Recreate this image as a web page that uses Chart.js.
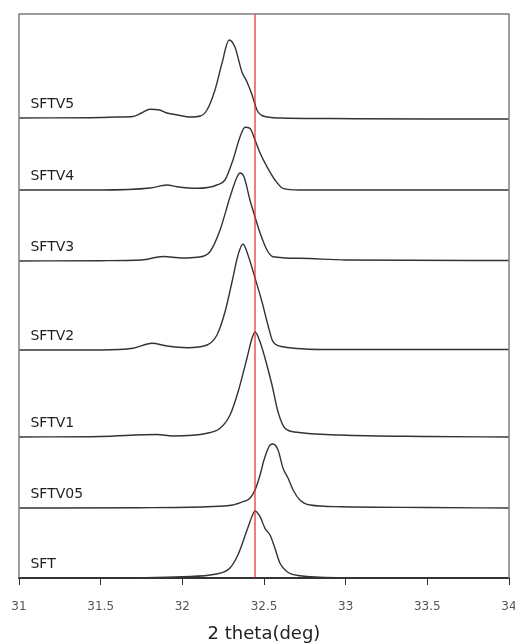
<!DOCTYPE html>
<html>
<head>
<meta charset="utf-8">
<script src="https://cdn.jsdelivr.net/npm/chart.js@4.4.1/dist/chart.umd.min.js"></script>
<style>
  html, body { margin: 0; padding: 0; background: #fff; }
  #wrap { width: 515px; height: 643px; }
</style>
</head>
<body>
<div id="wrap"><canvas id="xrdChart" width="515" height="643"></canvas></div>
<script>
// Stacked XRD patterns around the main perovskite peak
const samples = ['SFT', 'SFTV05', 'SFTV1', 'SFTV2', 'SFTV3', 'SFTV4', 'SFTV5'];
const offsets = [0, 70, 141, 228, 317, 388, 460];  // vertical shift of each pattern
const refTheta = 32.445;  // peak position of undoped SFT
const xTicks = [31, 31.5, 32, 32.5, 33, 33.5, 34];

const thetaSFT = [31.0, 31.5, 31.74, 32.0, 32.2, 32.29, 32.34, 32.4, 32.43, 32.445, 32.476, 32.506, 32.537, 32.567, 32.598, 32.641, 32.72, 32.97, 33.5, 34.0];
const countsSFT = [0, 0, 0.3, 1.3, 3.7, 9.7, 23, 49.7, 63, 67, 61.3, 49.7, 43, 29.7, 14.7, 6.3, 2.3, 0.3, 0, 0];

const thetaSFTV05 = [31.0, 31.74, 32.15, 32.31, 32.371, 32.414, 32.445, 32.476, 32.5, 32.537, 32.555, 32.586, 32.616, 32.647, 32.678, 32.72, 32.782, 32.97, 33.5, 34.0];
const countsSFTV05 = [0, 0.3, 1.3, 3, 6.3, 9.7, 18, 33, 48, 63, 64, 58, 40, 30, 18, 8, 3, 1.3, 0.5, 0];

const thetaSFTV1 = [31.0, 31.5, 31.845, 31.943, 32.151, 32.231, 32.292, 32.341, 32.396, 32.427, 32.445, 32.476, 32.506, 32.549, 32.586, 32.629, 32.702, 32.965, 33.5, 34.0];
const countsSFTV1 = [0, 0.5, 2.5, 1, 3.7, 8.7, 22, 45, 79, 99, 105, 95, 79, 52, 25, 8.7, 4.7, 2, 0.5, 0];

const thetaSFTV2 = [31.0, 31.5, 31.698, 31.814, 31.906, 32.029, 32.151, 32.212, 32.261, 32.304, 32.341, 32.371, 32.402, 32.445, 32.488, 32.524, 32.555, 32.616, 32.9, 33.5, 34.0];
const countsSFTV2 = [0, 0, 1.7, 6.7, 4, 2.3, 5, 15, 38, 68, 95, 106, 95, 72, 48, 25, 8.3, 3.3, 0.5, 0.5, 0.5];

const thetaSFTV3 = [31.0, 31.5, 31.75, 31.882, 32.0, 32.09, 32.169, 32.231, 32.292, 32.335, 32.353, 32.378, 32.414, 32.445, 32.476, 32.518, 32.555, 32.72, 33.0, 34.0];
const countsSFTV3 = [0, 0.3, 1, 4.5, 3, 3.7, 9.3, 31, 64, 84, 88, 84, 61, 44, 28, 11, 4.3, 2.7, 1, 0.5];

const thetaSFTV4 = [31.0, 31.5, 31.802, 31.906, 31.967, 32.09, 32.212, 32.261, 32.31, 32.353, 32.384, 32.414, 32.445, 32.476, 32.518, 32.567, 32.616, 32.72, 33.0, 34.0];
const countsSFTV4 = [0, 0, 2, 5, 3.3, 1.7, 5, 10, 30, 53, 62.7, 61.7, 50, 37, 23.3, 10, 1.7, 0, 0, 0];

const thetaSFTV5 = [31.0, 31.5, 31.6, 31.698, 31.75, 31.802, 31.86, 31.906, 31.97, 32.05, 32.11, 32.151, 32.2, 32.243, 32.286, 32.322, 32.365, 32.396, 32.427, 32.457, 32.494, 32.6, 32.9, 33.5, 34.0];
const countsSFTV5 = [0, 0.5, 1, 1.5, 5, 8.7, 8, 5, 3, 1, 2, 8, 28, 55, 78, 71, 46, 36, 23, 8, 2, 0, -0.5, -1, -1];

const thetas = [thetaSFT, thetaSFTV05, thetaSFTV1, thetaSFTV2, thetaSFTV3, thetaSFTV4, thetaSFTV5];
const counts = [countsSFT, countsSFTV05, countsSFTV1, countsSFTV2, countsSFTV3, countsSFTV4, countsSFTV5];

Chart.defaults.font.family = "'DejaVu Sans', sans-serif";

// one line per sample, shifted up by its offset
const patternSets = samples.map((name, i) => ({
    label: name,
    data: thetas[i].map((t, j) => ({ x: t, y: counts[i][j] + offsets[i] })),
    borderColor: '#333',
    borderWidth: 1.4,
    pointRadius: 0,
    cubicInterpolationMode: 'monotone',
    order: 2
}));

const refLineSet = {
    label: 'ref',
    data: [{ x: refTheta, y: 0 }, { x: refTheta, y: 564 }],
    borderColor: '#e52a2a',
    borderWidth: 1.2,
    pointRadius: 0,
    order: 1
};

// box around the plot and the sample names
const framePlugin = {
    id: 'frame',
    afterDatasetsDraw(chart) {
        const { ctx, chartArea: a, scales } = chart;
        ctx.save();
        ctx.strokeStyle = '#7d7d7d';
        ctx.lineWidth = 1.5;
        ctx.beginPath();
        ctx.moveTo(a.left, a.bottom);
        ctx.lineTo(a.left, a.top);
        ctx.lineTo(a.right, a.top);
        ctx.lineTo(a.right, a.bottom);
        ctx.stroke();

        ctx.fillStyle = '#1e1e1e';
        ctx.font = "14px 'DejaVu Sans'";
        ctx.textAlign = 'left';
        ctx.textBaseline = 'alphabetic';
        samples.forEach((name, i) => {
            ctx.fillText(name, scales.x.getPixelForValue(31.07), scales.y.getPixelForValue(offsets[i] + 10));
        });
        ctx.restore();
    }
};

new Chart(document.getElementById('xrdChart'), {
    type: 'line',
    data: { datasets: [refLineSet, ...patternSets] },
    options: {
        responsive: false,
        animation: false,
        layout: { autoPadding: false, padding: { left: 19, right: 6, top: 14, bottom: 1 } },
        plugins: { legend: { display: false }, tooltip: { enabled: false } },
        scales: {
            x: {
                type: 'linear',
                min: 31,
                max: 34,
                afterBuildTicks: (scale) => { scale.ticks = xTicks.map(v => ({ value: v })); },
                // let the end labels run past the frame instead of shrinking the plot
                afterFit: (scale) => { scale.paddingLeft = 0; scale.paddingRight = 0; scale.height = 64; },
                ticks: { color: '#555', font: { size: 12 }, padding: 15, callback: (v) => String(v) },
                grid: { drawOnChartArea: false, tickLength: 7, color: '#333', lineWidth: 1 },
                border: { color: '#333', width: 2 },
                title: { display: true, text: '2 theta(deg)', color: '#222', font: { size: 18 }, padding: { top: 8, bottom: -3 } }
            },
            y: { type: 'linear', min: 0, max: 564, display: false }
        }
    },
    plugins: [framePlugin]
});
</script>
</body>
</html>
